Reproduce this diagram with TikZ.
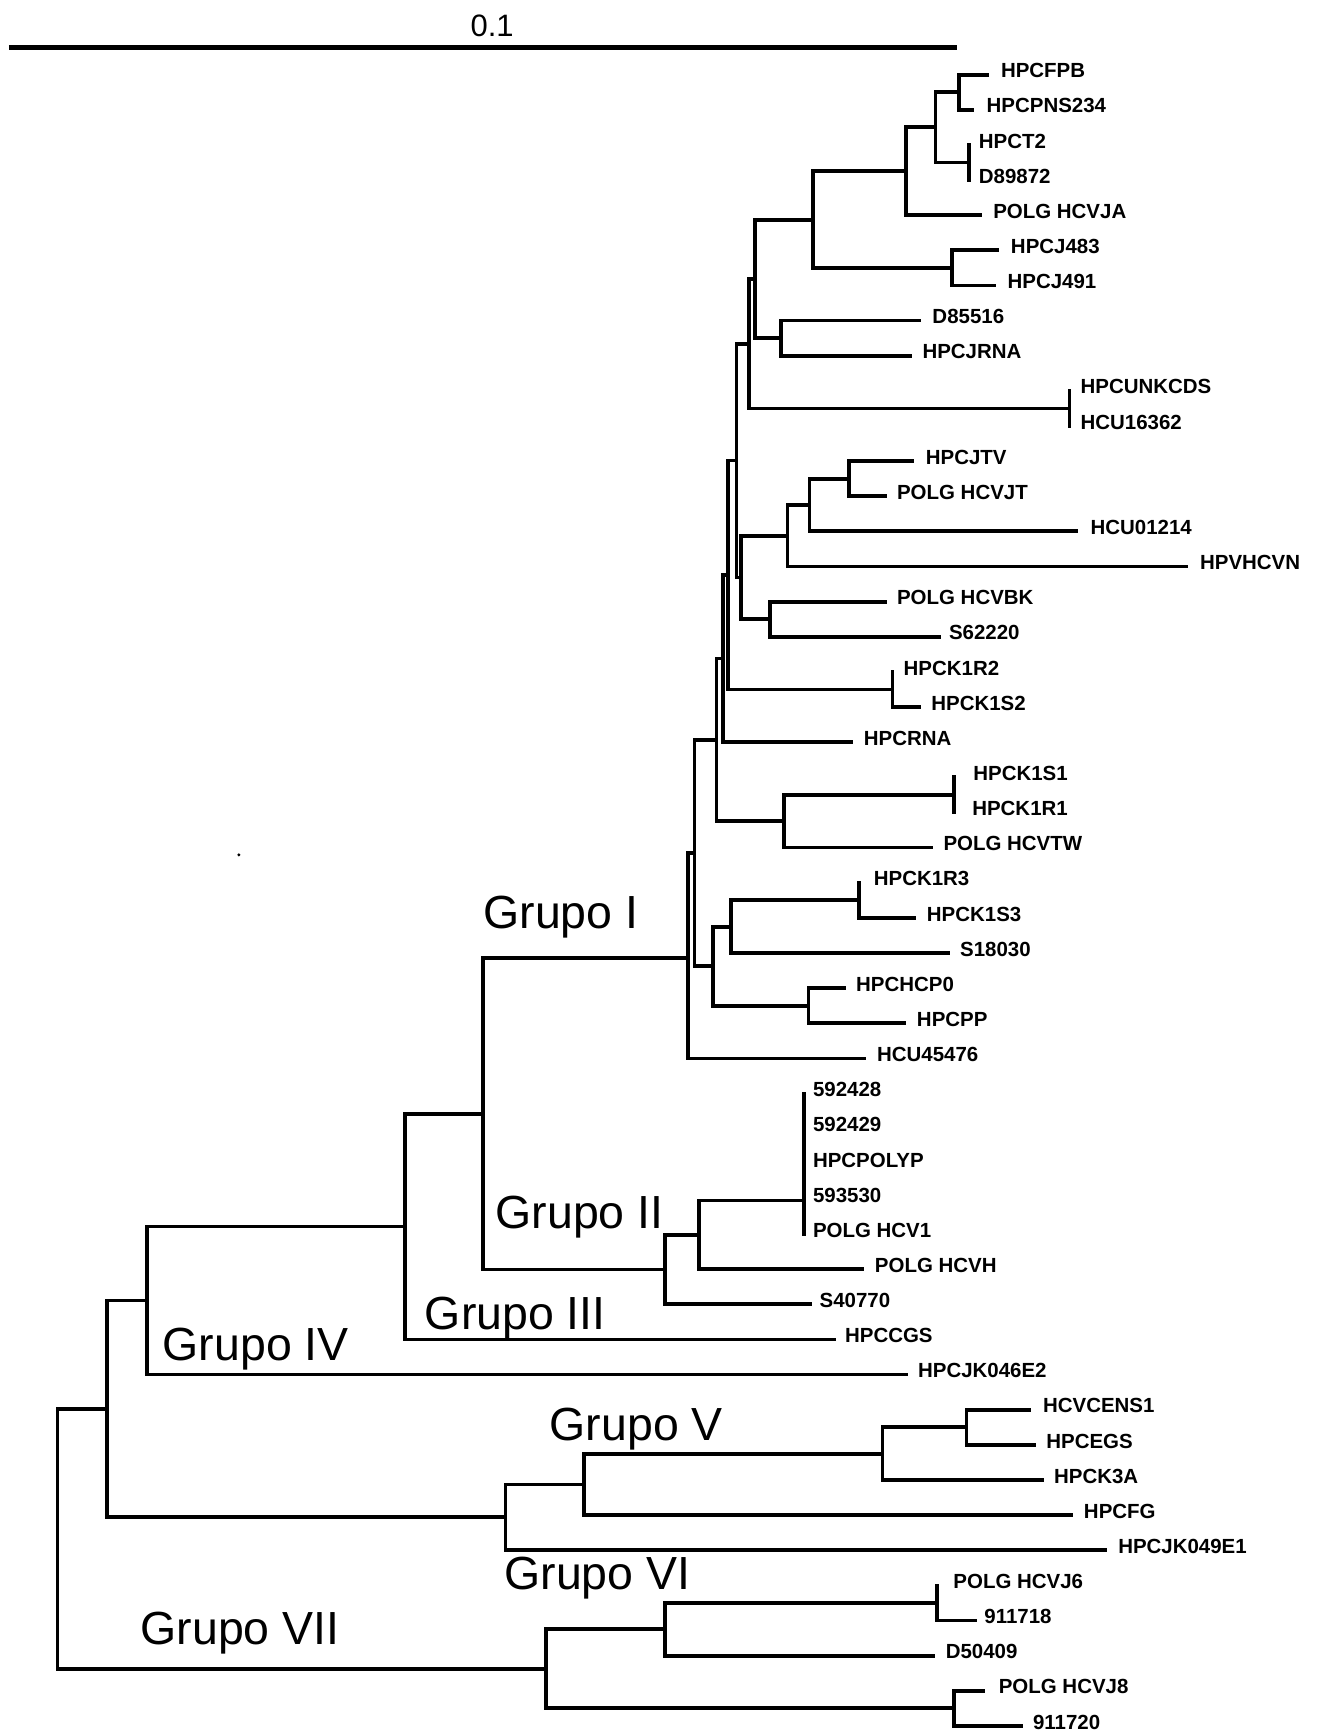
\documentclass[tikz,border=0pt]{standalone}
\usepackage{fontspec}
\setmainfont{Liberation Sans}
\newcommand\mkleaf[5]{\coordinate (#1) at (#2,#4); \node[lab] (#1t) at (#3,#4) {#5};}
\begin{document}
\begin{tikzpicture}[x=1pt,y=-1pt,
  br/.style={line width=3.4pt,line cap=rect,line join=miter},
  lab/.style={anchor=west,inner sep=0pt,yshift=3.5pt,font=\fontsize{18.5}{20}\selectfont\bfseries},
  grp/.style={anchor=base west,inner sep=0pt,font=\fontsize{42}{46}\selectfont}]
\useasboundingbox[fill=white] (0,0) rectangle (1192,1568);
% scale bar
\coordinate (sb0) at (8,43);
\coordinate (sb1) at (865,43);
\draw[line width=4.5pt] (sb0) -- (sb1);
\node[anchor=base,inner sep=0pt,font=\fontsize{28}{30}\selectfont] (sbl) at (445,33) {0.1};
\begin{scope}[yshift=-3.5pt]
% leaves
\mkleaf{e0}{893}{905}{64.0}{HPCFPB}
\mkleaf{e1}{879}{892}{95.8}{HPCPNS234}
\mkleaf{e2}{876}{885}{127.5}{HPCT2}
\mkleaf{e3}{876}{885}{159.3}{D89872}
\mkleaf{e4}{886}{898}{191.1}{POLG HCVJA}
\mkleaf{e5}{902}{914}{222.9}{HPCJ483}
\mkleaf{e6}{899}{911}{254.6}{HPCJ491}
\mkleaf{e7}{831}{843}{286.4}{D85516}
\mkleaf{e8}{823}{834}{318.2}{HPCJRNA}
\mkleaf{e9}{967}{977}{349.9}{HPCUNKCDS}
\mkleaf{e10}{967}{977}{381.7}{HCU16362}
\mkleaf{e11}{825}{837}{413.5}{HPCJTV}
\mkleaf{e12}{800}{811}{445.2}{POLG HCVJT}
\mkleaf{e13}{973}{986}{477.0}{HCU01214}
\mkleaf{e14}{1073}{1085}{508.8}{HPVHCVN}
\mkleaf{e15}{800}{811}{540.6}{POLG HCVBK}
\mkleaf{e16}{849}{858}{572.3}{S62220}
\mkleaf{e17}{807}{817}{604.1}{HPCK1R2}
\mkleaf{e18}{831}{842}{635.9}{HPCK1S2}
\mkleaf{e19}{770}{781}{667.6}{HPCRNA}
\mkleaf{e20}{863}{880}{699.4}{HPCK1S1}
\mkleaf{e21}{863}{879}{731.2}{HPCK1R1}
\mkleaf{e22}{842}{853}{762.9}{POLG HCVTW}
\mkleaf{e23}{777}{790}{794.7}{HPCK1R3}
\mkleaf{e24}{827}{838}{826.5}{HPCK1S3}
\mkleaf{e25}{857}{868}{858.3}{S18030}
\mkleaf{e26}{763}{774}{890.0}{HPCHCP0}
\mkleaf{e27}{818}{829}{921.8}{HPCPP}
\mkleaf{e28}{781}{793}{953.6}{HCU45476}
\mkleaf{e29}{727}{735}{985.3}{592428}
\mkleaf{e30}{727}{735}{1017.1}{592429}
\mkleaf{e31}{727}{735}{1048.9}{HPCPOLYP}
\mkleaf{e32}{727}{735}{1080.6}{593530}
\mkleaf{e33}{727}{735}{1112.4}{POLG HCV1}
\mkleaf{e34}{780}{791}{1144.2}{POLG HCVH}
\mkleaf{e35}{733}{741}{1175.9}{S40770}
\mkleaf{e36}{754}{764}{1207.7}{HPCCGS}
\mkleaf{e37}{819}{830}{1239.5}{HPCJK046E2}
\mkleaf{e38}{931}{943}{1271.3}{HCVCENS1}
\mkleaf{e39}{935}{946}{1303.0}{HPCEGS}
\mkleaf{e40}{942}{953}{1334.8}{HPCK3A}
\mkleaf{e41}{969}{980}{1366.6}{HPCFG}
\mkleaf{e42}{999}{1011}{1398.4}{HPCJK049E1}
\mkleaf{e43}{847}{862}{1430.1}{POLG HCVJ6}
\mkleaf{e44}{882}{890}{1461.9}{911718}
\mkleaf{e45}{844}{855}{1493.7}{D50409}
\mkleaf{e46}{889}{903}{1525.4}{POLG HCVJ8}
\mkleaf{e47}{923}{934}{1557.2}{911720}
% internal nodes
\coordinate (nFPB) at (867,79.9);
\coordinate (nT2) at (876,143.4);
\coordinate (n846) at (846,111.65);
\coordinate (n818) at (819,151.4);
\coordinate (nJ48) at (861,238.75);
\coordinate (n733) at (735,195.1);
\coordinate (n706) at (706,302.3);
\coordinate (n683) at (683,248.7);
\coordinate (nUNK) at (967,365.8);
\coordinate (n677) at (677,307.25);
\coordinate (n768) at (768,429.35);
\coordinate (n731) at (732,453.2);
\coordinate (n712) at (712,481.0);
\coordinate (n696) at (696,556.45);
\coordinate (n670) at (670,518.7);
\coordinate (n666) at (666,413.0);
\coordinate (nK1R2) at (807,620.0);
\coordinate (n657) at (658,516.5);
\coordinate (n654) at (654,592.05);
\coordinate (nK1S1) at (863,715.3);
\coordinate (n708) at (709,739.1);
\coordinate (nI2) at (648,665.6);
\coordinate (nK1R3) at (777,810.6);
\coordinate (n660) at (661,834.45);
\coordinate (nHCP) at (731,905.9);
\coordinate (nI3) at (645,870.2);
\coordinate (nI1) at (628,767.9);
\coordinate (nI0) at (622,862.5);
\coordinate (nPOLY) at (727,1082);
\coordinate (n632) at (632,1113.1);
\coordinate (n600) at (601,1144.5);
\coordinate (n437) at (437,1003.5);
\coordinate (n367) at (366,1105.6);
\coordinate (n133) at (133,1172.5);
\coordinate (nCENS) at (874,1287.15);
\coordinate (n798) at (798,1311.0);
\coordinate (n528) at (528,1338.8);
\coordinate (n456) at (457,1368.6);
\coordinate (n97) at (97,1270.5);
\coordinate (nJ6) at (847,1446.0);
\coordinate (n600b) at (601,1469.85);
\coordinate (nJ8) at (863,1541.3);
\coordinate (n494) at (494,1505.6);
\coordinate (root) at (52,1388.0);
% branches
\foreach \p/\c in {nFPB/e0,nFPB/e1,nT2/e2,nT2/e3,n846/nFPB,n846/nT2,n818/n846,n818/e4,
  nJ48/e5,nJ48/e6,n733/n818,n733/nJ48,n706/e7,n706/e8,n683/n733,n683/n706,
  nUNK/e9,nUNK/e10,n677/n683,n677/nUNK,n768/e11,n768/e12,n731/n768,n731/e13,
  n712/n731,n712/e14,n696/e15,n696/e16,n670/n712,n670/n696,n666/n677,n666/n670,
  nK1R2/e17,nK1R2/e18,n657/n666,n657/nK1R2,n654/n657,n654/e19,nK1S1/e20,nK1S1/e21,
  n708/nK1S1,n708/e22,nI2/n654,nI2/n708,nK1R3/e23,nK1R3/e24,n660/nK1R3,n660/e25,
  nHCP/e26,nHCP/e27,nI3/n660,nI3/nHCP,nI1/nI2,nI1/nI3,nI0/nI1,nI0/e28,
  nPOLY/e29,nPOLY/e33,n632/nPOLY,n632/e34,n600/n632,n600/e35,n437/nI0,n437/n600,
  n367/n437,n367/e36,n133/n367,n133/e37,nCENS/e38,nCENS/e39,n798/nCENS,n798/e40,
  n528/n798,n528/e41,n456/n528,n456/e42,n97/n133,n97/n456,nJ6/e43,nJ6/e44,
  n600b/nJ6,n600b/e45,nJ8/e46,nJ8/e47,n494/n600b,n494/nJ8,root/n97,root/n494}
  \draw[br] (\p) |- (\c);
\end{scope}
% group labels
\node[grp] (g1) at (437,840) {Grupo I};
\node[grp] (g2) at (448,1111) {Grupo II};
\node[grp] (g3) at (384,1202) {Grupo III};
\node[grp] (g4) at (147,1230) {Grupo IV};
\node[grp] (g5) at (497,1303) {Grupo V};
\node[grp] (g6) at (456,1437) {Grupo VI};
\node[grp] (g7) at (127,1487) {Grupo VII};
% speck
\fill (216,773) circle (1.5pt);
\end{tikzpicture}
\end{document}
